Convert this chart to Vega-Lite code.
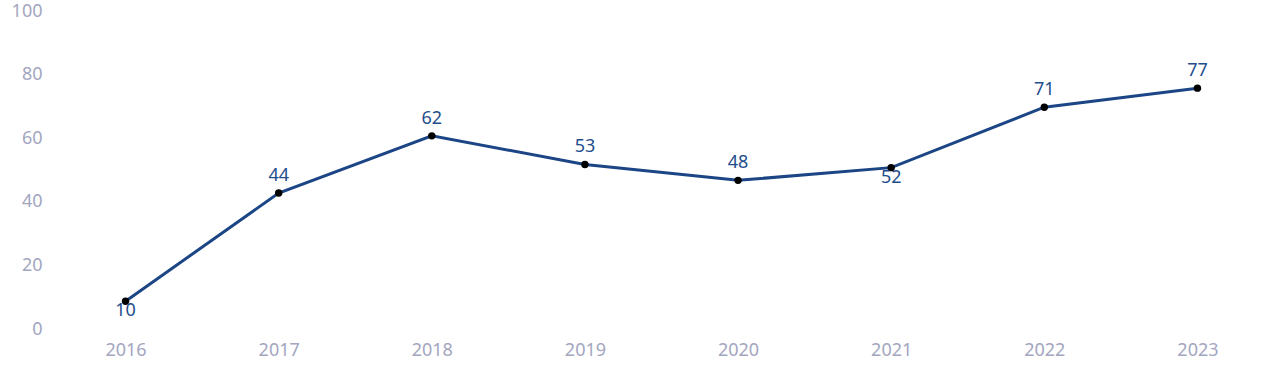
{
  "$schema": "https://vega.github.io/schema/vega-lite/v6.json",
  "width": 1225,
  "height": 318,
  "autosize": "none",
  "padding": {"left": 49, "top": 15, "right": 6, "bottom": 49},
  "config": {"view": {"stroke": null}, "font": "Noto Sans"},
  "data": {"values": [
    {"year": "2016", "value": 10},
    {"year": "2017", "value": 44},
    {"year": "2018", "value": 62},
    {"year": "2019", "value": 53},
    {"year": "2020", "value": 48},
    {"year": "2021", "value": 52},
    {"year": "2022", "value": 71},
    {"year": "2023", "value": 77}
  ]},
  "encoding": {
    "x": {"field": "year", "type": "ordinal", "scale": {"type": "point", "padding": 0.5},
      "axis": {"title": null, "domain": false, "ticks": false, "labelAngle": 0, "labelFontSize": 18, "labelColor": "#a3a6bf", "labelPadding": 8, "labelFont": "Noto Sans"}},
    "y": {"field": "value", "type": "quantitative", "scale": {"domain": [0, 100], "nice": false},
      "axis": {"title": null, "domain": false, "ticks": false, "grid": false, "values": [0, 20, 40, 60, 80, 100], "labelFontSize": 18, "labelColor": "#a3a6bf", "labelPadding": 7, "labelOffset": -4, "labelFont": "Noto Sans"}}
  },
  "layer": [
    {"mark": {"type": "line", "color": "#1c4585", "strokeWidth": 3}},
    {"mark": {"type": "point", "filled": true, "color": "#000000", "size": 55, "opacity": 1}},
    {"transform": [{"filter": "datum.year != '2016' && datum.year != '2021'"}],
     "mark": {"type": "text", "dy": -17, "fontSize": 18, "color": "#1f4e8c", "font": "Noto Sans"},
     "encoding": {"text": {"field": "value", "type": "quantitative"}}},
    {"transform": [{"filter": "datum.year == '2016' || datum.year == '2021'"}],
     "mark": {"type": "text", "dy": 10, "fontSize": 18, "color": "#1f4e8c", "font": "Noto Sans"},
     "encoding": {"text": {"field": "value", "type": "quantitative"}}}
  ]
}
